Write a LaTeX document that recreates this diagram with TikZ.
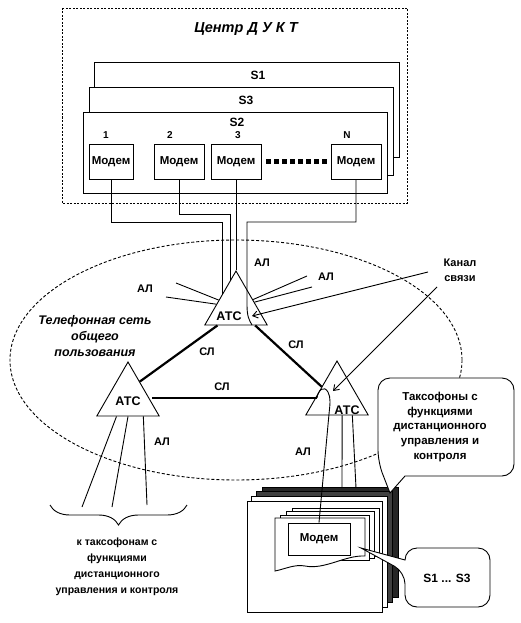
\documentclass[tikz,border=0pt]{standalone}
\usepackage{fontspec}
\setmainfont{Liberation Sans}
\usetikzlibrary{shapes.geometric,decorations.pathreplacing,arrows.meta,calc}
\tikzset{
  lab/.style={font=\bfseries\fontsize{11}{15}\selectfont, inner sep=0pt, align=center},
  slab/.style={font=\bfseries\fontsize{12}{14}\selectfont, inner sep=0pt},
  num/.style={font=\bfseries\fontsize{10}{12}\selectfont, inner sep=0pt},
  head/.style={font=\bfseries\itshape\fontsize{14.5}{16}\selectfont, inner sep=0pt},
  net/.style={font=\bfseries\itshape\fontsize{12.5}{16}\selectfont, inner sep=0pt, align=center},
  modem/.style={draw, fill=white, font=\bfseries\fontsize{11.5}{14}\selectfont, inner sep=0pt, minimum height=35pt},
  atc/.style={draw, fill=white, regular polygon, regular polygon sides=3, minimum size=72pt, inner sep=0pt},
  atctxt/.style={font=\bfseries\fontsize{12.5}{14}\selectfont, inner sep=0pt},
  sl/.style={line width=2.2pt},
  dots/.style={dash pattern=on 2pt off 1.5pt},
  arr/.style={-{Straight Barb[length=5pt,width=7pt]}},
}
\begin{document}
\begin{tikzpicture}[x=1pt,y=-1pt,line width=0.9pt]
  \useasboundingbox (0,0) rectangle (520,623);
  % centre DUKT
  \draw[dots] (62,8) rectangle (407,203);
  \node[head] (centre) at (246,29) {Центр Д У К Т};
  \draw[fill=white] (94,62) rectangle (399,157);
  \draw[fill=white] (89,87) rectangle (393,175);
  \draw[fill=white] (83,112) rectangle (387,193);
  \node[slab] (s1) at (258,75) {S1};
  \node[slab] (s3) at (246,100) {S3};
  \node[slab] (s2) at (237,122) {S2};
  \node[num] (n1) at (106,135) {1};
  \node[num] (n2) at (170,135) {2};
  \node[num] (n3) at (238,135) {3};
  \node[num] (nN) at (347,135) {N};
  \node[modem, minimum width=44pt] (m1) at (111,161.5) {Модем};
  \node[modem, minimum width=50pt] (m2) at (179,161.5) {Модем};
  \node[modem, minimum width=50pt] (m3) at (236,161.5) {Модем};
  \node[modem, minimum width=50pt] (mN) at (356,161.5) {Модем};
  \draw[line width=4.5pt, dash pattern=on 4.5pt off 3.5pt, shorten <=5pt, shorten >=3pt] (m3) -- (mN);

  % public network
  \draw[dash pattern=on 3pt off 2pt] (236,360) ellipse [x radius=226pt, y radius=120pt];
  \node[net] (net) at (95,336) {Телефонная сеть\\общего\\пользования};
  \node[atc] (atcT) at (236,307) {};
  \node[atc] (atcL) at (128,398) {};
  \node[atc] (atcR) at (337,397) {};

  % payphones
  \filldraw[fill=black!85] (262,487) rectangle (398,597);
  \filldraw[fill=black!75] (256,491) rectangle (392,602);
  \filldraw[fill=white] (251,496) rectangle (387,607);
  \filldraw[fill=white] (247,501) rectangle (382,612);
  \filldraw[fill=white] (292,508) rectangle (379,556);
  \filldraw[fill=white] (286,511) rectangle (374,558);
  \filldraw[fill=white] (280,515) rectangle (369,560);
  \filldraw[fill=white] (275,518) -- (365,518) -- (365,556)
    .. controls (345,555) and (325,570) .. (305,566)
    .. controls (295,564) and (285,569) .. (275,571) -- cycle;
  \node[modem, minimum width=62pt, minimum height=32pt] (mS) at (319,539) {Модем};

  % callouts
  \draw[fill=white, rounded corners=12pt] (405,476) -- (514,476) -- (514,378) -- (378,378) -- (378,462) [sharp corners] -- (390,493) -- cycle;
  \node[lab, font=\bfseries\fontsize{11.5}{14.75}\selectfont] (taxo) at (440,427) {Таксофоны с\\функциями\\дистанционного\\управления и\\контроля};
  \draw[fill=white, rounded corners=12pt] (405,560) -- (405,548) -- (490,548) -- (490,607) -- (405,607) -- (405,572) [sharp corners] -- (361,548) -- cycle;
  \node[slab] (sset) at (447,578) {S1 ... S3};

  % modem lines
  \coordinate (e1) at (222,295);
  \coordinate (e2) at (230,281);
  \coordinate (eN) at (252,325);
  \draw (m1.south) |- (222,222) -- (e1);
  \draw (m2.south) |- (230,214) -- (e2);
  \draw (m3.south) -- (atcT.corner 1);
  \draw (mN.south) |- (247,222) -- (247,305) .. controls (247,316) and (249,320) .. (eN);

  % subscriber lines
  \coordinate (a1) at (176,283);
  \coordinate (a2) at (166,297);
  \coordinate (a3) at (307,276);
  \coordinate (a4) at (312,287);
  \draw (a1) -- (atcT);
  \draw (a2) -- (atcT);
  \draw (a3) -- (atcT);
  \draw (a4) -- (atcT);
  \coordinate (f1) at (82,507);
  \coordinate (f2) at (112,507);
  \coordinate (f3) at (147,505);
  \draw ($(atcL.corner 2)!0.32!(atcL.corner 3)$) -- (f1);
  \draw ($(atcL.corner 2)!0.5!(atcL.corner 3)$) -- (f2);
  \draw ($(atcL.corner 2)!0.74!(atcL.corner 3)$) -- (f3);
  \coordinate (b1) at (342,488);
  \coordinate (b2) at (356,488);
  \draw ($(atcR.corner 2)!0.58!(atcR.corner 3)$) -- (b1);
  \draw ($(atcR.corner 2)!0.74!(atcR.corner 3)$) -- (b2);
  \coordinate (r1) at (317,398);
  \draw (r1) .. controls (318,390) and (324,385) .. (328,392)
    .. controls (331,398) and (330,404) .. (329,414) -- (mS.north);

  % trunk lines
  \draw[sl] ($(atcT.corner 2)!0.21!(atcT.corner 3)$) -- ($(atcL.corner 1)!0.37!(atcL.corner 3)$);
  \draw[sl] ($(atcT.corner 2)!0.8!(atcT.corner 3)$) -- ($(atcR.corner 1)!0.48!(atcR.corner 2)$);
  \draw[sl, shorten <=3pt] (atcL.east) -- (r1);

  % channel
  \node[lab] (kanal) at (460,270) {Канал\\связи};
  \coordinate (k1) at (428,272);
  \coordinate (k2) at (437,287);
  \coordinate (t1) at (252,316);
  \coordinate (t2) at (333,391);
  \draw[arr] (k1) -- (t1);
  \draw[arr] (k2) -- (t2);

  % texts
  \node[atctxt] (atcTt) at (229,316) {АТС};
  \node[atctxt] (atcLt) at (128,401) {АТС};
  \node[atctxt] (atcRt) at (347,410) {АТС};
  \node[lab] (al1) at (145,289) {АЛ};
  \node[lab] (al2) at (262,263) {АЛ};
  \node[lab] (al3) at (326,277) {АЛ};
  \node[lab] (al4) at (162,442) {АЛ};
  \node[lab] (al5) at (303,452) {АЛ};
  \node[lab] (sl1) at (207,352) {СЛ};
  \node[lab] (sl2) at (296,345) {СЛ};
  \node[lab] (sl3) at (222,387) {СЛ};

  % brace
  \draw[decorate, decoration={brace, amplitude=20pt}] (187,505) -- (50,505);
  \node[lab, font=\bfseries\fontsize{10.5}{16}\selectfont] (dest) at (117,567) {к таксофонам с\\функциями\\дистанционного\\управления и контроля};
\end{tikzpicture}
\end{document}
